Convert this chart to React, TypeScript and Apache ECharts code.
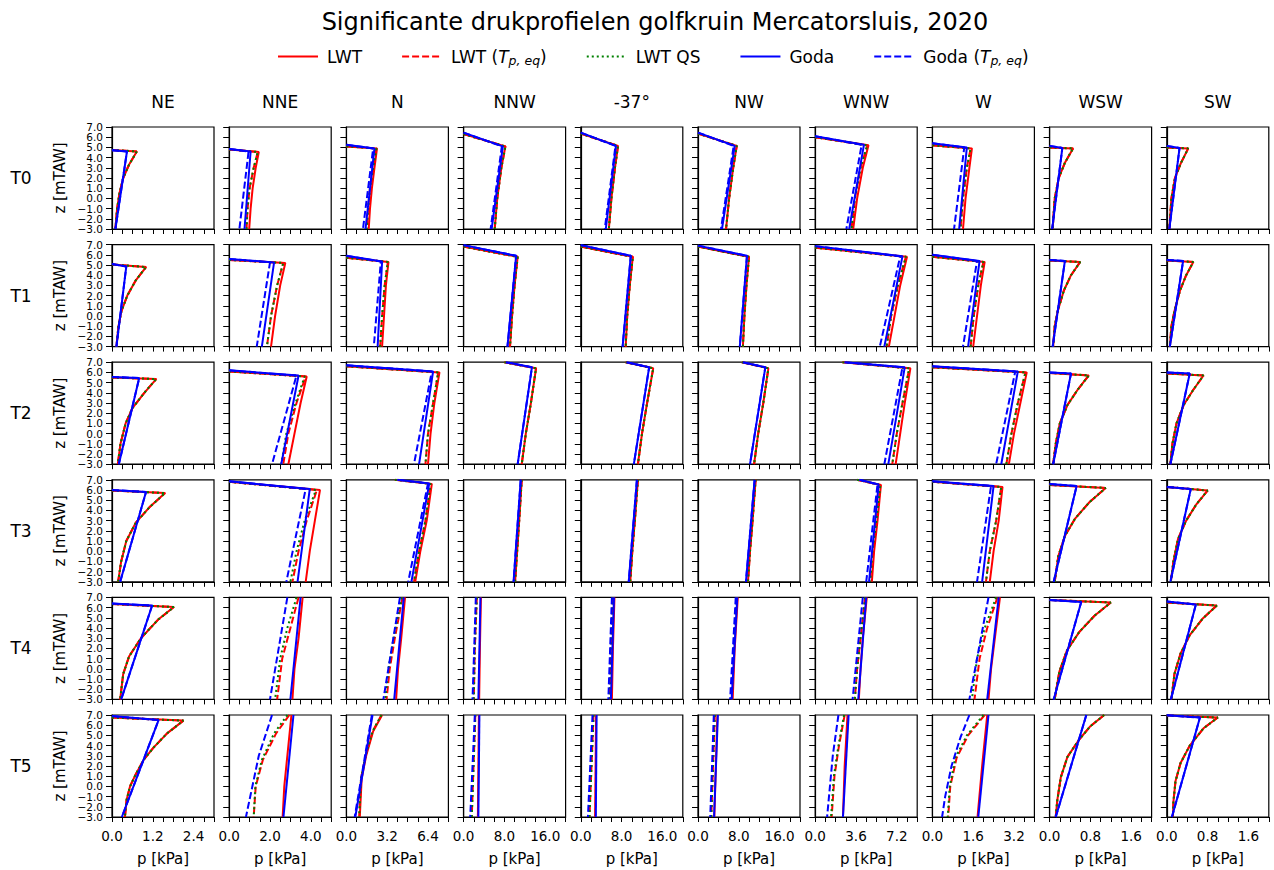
import React, { useEffect, useRef } from "react";
import * as echarts from "echarts";

type Pt = [number, number];
type Prof = Pt[] | null;

const COLUMNS = ["NE", "NNE", "N", "NNW", "-37°", "NW", "WNW", "W", "WSW", "SW"];
const ROWS = ["T0", "T1", "T2", "T3", "T4", "T5"];
const X_MAX = [3, 5, 8, 20, 20, 20, 9, 4, 2, 2];
const Z_MIN = -3;
const Z_MAX = 7;
const Z_TICKS = [7, 6, 5, 4, 3, 2, 1, 0, -1, -2, -3];
const SERIES_NAMES = ["LWT", "LWT (Tp,eq)", "LWT QS", "Goda", "Goda (Tp,eq)"];

// null = coincides with the solid counterpart
// ---------- T0 ----------
const T0_LWT: Prof[] = [
  [[0, 4.75], [0.73, 4.6], [0.5, 3.3], [0.33, 2.0], [0.22, 0.5], [0.15, -1], [0.1, -3]],
  [[0, 4.8], [1.45, 4.55], [1.3, 3], [1.15, 1], [1.05, -1], [0.98, -3]],
  [[0, 5.1], [2.4, 4.9], [2.2, 3], [2.0, 1], [1.85, -1], [1.75, -3]],
  [[0, 6.3], [8.2, 5.1], [7.4, 3], [6.6, 0], [6.1, -3]],
  [[0, 6.35], [7.3, 5.15], [6.7, 3], [6.0, 0], [5.5, -3]],
  [[0, 6.35], [7.6, 5.15], [6.9, 3], [6.1, 0], [5.5, -3]],
  [[0, 6.0], [4.7, 5.2], [4.2, 3], [3.7, 0], [3.35, -3]],
  [[0, 5.2], [1.55, 4.9], [1.45, 3], [1.3, 0], [1.2, -3]],
  [[0, 5.0], [0.46, 4.9], [0.3, 3.5], [0.18, 2], [0.1, 0], [0.06, -3]],
  [[0, 5.0], [0.42, 4.9], [0.28, 3.5], [0.16, 2], [0.09, 0], [0.05, -3]],
];
const T0_LWT_EQ: Prof[] = [
  null,
  [[0, 4.8], [1.4, 4.55], [1.2, 3], [1.0, 1], [0.9, -1], [0.85, -3]],
  [[0, 5.1], [2.35, 4.9], [2.1, 3], [1.85, 1], [1.7, -1], [1.6, -3]],
  null, null, null,
  [[0, 6.0], [4.6, 5.2], [4.0, 3], [3.5, 0], [3.2, -3]],
  [[0, 5.2], [1.5, 4.9], [1.35, 3], [1.2, 0], [1.1, -3]],
  null, null,
];
const T0_QS: Prof[] = [null, null, null, null, null, null, null, null, null, null];
const T0_GODA: Prof[] = [
  [[0, 4.72], [0.44, 4.6], [0.1, -3]],
  [[0, 4.85], [1.05, 4.6], [0.75, -3]],
  [[0, 5.25], [2.2, 4.9], [1.5, -3]],
  [[0, 6.45], [7.7, 5.1], [5.5, -3]],
  [[0, 6.45], [6.9, 5.15], [4.9, -3]],
  [[0, 6.45], [7.2, 5.15], [4.7, -3]],
  [[0, 6.1], [4.3, 5.25], [3.0, -3]],
  [[0, 5.4], [1.35, 5.0], [1.05, -3]],
  [[0, 5.15], [0.25, 4.95], [0.05, -3]],
  [[0, 5.15], [0.25, 4.95], [0.05, -3]],
];
const T0_GODA_EQ: Prof[] = [
  null,
  [[0, 4.85], [0.95, 4.6], [0.5, -3]],
  [[0, 5.25], [2.1, 4.9], [1.3, -3]],
  [[0, 6.45], [7.5, 5.1], [5.3, -3]],
  [[0, 6.45], [6.8, 5.15], [4.7, -3]],
  [[0, 6.45], [7.0, 5.15], [4.5, -3]],
  [[0, 6.1], [4.1, 5.25], [2.75, -3]],
  [[0, 5.4], [1.25, 5.0], [0.85, -3]],
  null, null,
];

// ---------- T1 ----------
const T1_LWT: Prof[] = [
  [[0, 5.05], [1.0, 4.8], [0.7, 3.5], [0.45, 2], [0.28, 0.5], [0.19, -1], [0.13, -3]],
  [[0, 5.5], [2.75, 5.2], [2.5, 3], [2.25, 0], [2.05, -3]],
  [[0, 5.7], [3.3, 5.3], [3.1, 3], [2.95, 0], [2.8, -3]],
  [[0, 6.8], [10.6, 5.8], [10.0, 3], [9.5, 0], [9.1, -3]],
  [[0, 6.8], [10.2, 5.8], [9.6, 3], [9.1, 0], [8.8, -3]],
  [[0, 6.8], [10.0, 5.8], [9.5, 3], [9.1, 0], [8.8, -3]],
  [[0, 6.7], [8.1, 5.8], [7.5, 3], [7.0, 0], [6.5, -3]],
  [[0, 5.8], [2.05, 5.3], [1.9, 3], [1.75, 0], [1.6, -3]],
  [[0, 5.45], [0.6, 5.3], [0.42, 4], [0.28, 2.5], [0.16, 0.5], [0.1, -1], [0.07, -3]],
  [[0, 5.45], [0.52, 5.3], [0.38, 4], [0.26, 2.5], [0.15, 0.5], [0.09, -1], [0.06, -3]],
];
const T1_LWT_EQ: Prof[] = [
  null,
  [[0, 5.5], [2.65, 5.2], [2.35, 3], [2.05, 0], [1.85, -3]],
  [[0, 5.7], [3.25, 5.3], [3.0, 3], [2.8, 0], [2.65, -3]],
  null, null, null,
  [[0, 6.7], [8.0, 5.8], [7.3, 3], [6.7, 0], [6.3, -3]],
  [[0, 5.8], [2.0, 5.3], [1.8, 3], [1.62, 0], [1.5, -3]],
  null, null,
];
const T1_QS: Prof[] = [null, null, null, null, null, null, null, null, null, null];
const T1_GODA: Prof[] = [
  [[0, 5.1], [0.42, 4.85], [0.13, -3]],
  [[0, 5.6], [2.2, 5.25], [1.6, -3]],
  [[0, 5.9], [2.8, 5.35], [2.45, -3]],
  [[0, 6.95], [10.3, 5.9], [8.6, -3]],
  [[0, 6.95], [9.8, 5.9], [8.2, -3]],
  [[0, 6.9], [9.6, 5.9], [8.2, -3]],
  [[0, 6.85], [7.7, 5.85], [6.1, -3]],
  [[0, 6.0], [1.85, 5.4], [1.4, -3]],
  [[0, 5.5], [0.3, 5.4], [0.06, -3]],
  [[0, 5.5], [0.32, 5.4], [0.06, -3]],
];
const T1_GODA_EQ: Prof[] = [
  null,
  [[0, 5.6], [2.0, 5.25], [1.35, -3]],
  [[0, 5.9], [2.7, 5.35], [2.15, -3]],
  null, null, null,
  [[0, 6.85], [7.5, 5.85], [5.7, -3]],
  [[0, 6.0], [1.75, 5.4], [1.2, -3]],
  null, null,
];

// ---------- T2 ----------
const T2_LWT: Prof[] = [
  [[0, 5.5], [1.3, 5.35], [0.95, 4], [0.6, 2.5], [0.4, 1], [0.25, -1], [0.17, -3]],
  [[0, 6.1], [3.8, 5.6], [3.5, 3], [3.2, 0], [2.9, -3]],
  [[0, 6.6], [7.3, 6.0], [6.9, 3], [6.6, 0], [6.4, -3]],
  [[8.0, 7.0], [14.2, 6.4], [13.2, 3], [12.2, 0], [11.4, -3]],
  [[8.8, 7.0], [14.2, 6.4], [13.0, 3], [12.0, 0], [11.2, -3]],
  [[8.6, 7.0], [13.8, 6.4], [12.8, 3], [11.8, 0], [11.0, -3]],
  [[2.4, 7.0], [8.4, 6.4], [7.9, 3], [7.5, 0], [7.1, -3]],
  [[0, 6.5], [3.7, 6.0], [3.45, 3], [3.2, 0], [3.0, -3]],
  [[0, 5.95], [0.77, 5.7], [0.55, 4.3], [0.35, 2.8], [0.2, 1], [0.12, -1], [0.07, -3]],
  [[0, 5.9], [0.72, 5.7], [0.52, 4.3], [0.33, 2.8], [0.19, 1], [0.11, -1], [0.07, -3]],
];
const T2_LWT_EQ: Prof[] = [
  null,
  [[0, 6.1], [3.75, 5.6], [3.3, 3], [2.9, 0], [2.65, -3]],
  [[0, 6.6], [7.2, 6.0], [6.8, 3], [6.4, 0], [6.2, -3]],
  null, null, null,
  [[2.4, 7.0], [8.3, 6.4], [7.7, 3], [7.2, 0], [6.8, -3]],
  [[0, 6.5], [3.65, 6.0], [3.35, 3], [3.1, 0], [2.9, -3]],
  null, null,
];
const T2_QS: Prof[] = [
  null,
  [[0, 6.1], [3.7, 5.6], [3.25, 3], [2.8, 0], [2.55, -3]],
  null, null, null, null, null, null, null, null,
];
const T2_GODA: Prof[] = [
  [[0, 5.55], [0.8, 5.45], [0.2, -3]],
  [[0, 6.2], [3.4, 5.7], [2.55, -3]],
  [[0, 6.7], [6.8, 6.1], [5.7, -3]],
  [[8.3, 7.0], [13.4, 6.5], [10.6, -3]],
  [[9.0, 7.0], [13.4, 6.5], [10.4, -3]],
  [[8.8, 7.0], [13.2, 6.5], [10.2, -3]],
  [[2.6, 7.0], [7.9, 6.5], [6.45, -3]],
  [[0, 6.6], [3.35, 6.1], [2.7, -3]],
  [[0, 6.0], [0.42, 5.9], [0.07, -3]],
  [[0, 6.0], [0.45, 5.9], [0.07, -3]],
];
const T2_GODA_EQ: Prof[] = [
  null,
  [[0, 6.2], [3.3, 5.7], [2.1, -3]],
  [[0, 6.7], [6.7, 6.1], [5.3, -3]],
  null, null, null,
  [[2.6, 7.0], [7.7, 6.5], [6.1, -3]],
  [[0, 6.6], [3.25, 6.1], [2.5, -3]],
  null, null,
];

// ---------- T3 ----------
const T3_LWT: Prof[] = [
  [[0, 5.95], [1.56, 5.7], [1.1, 4.3], [0.7, 2.8], [0.42, 1], [0.27, -1], [0.18, -3]],
  [[0, 6.8], [4.45, 6.0], [4.2, 3], [3.95, 0], [3.75, -3]],
  [[3.8, 7.0], [6.7, 6.6], [6.3, 3], [5.8, 0], [5.4, -3]],
  [[11.4, 7.0], [10.9, 3], [10.5, 0], [10.1, -3]],
  [[11.2, 7.0], [10.6, 3], [10.1, 0], [9.7, -3]],
  [[11.3, 7.0], [10.7, 3], [10.2, 0], [9.8, -3]],
  [[3.7, 7.0], [5.8, 6.5], [5.5, 3], [5.2, 0], [5.0, -3]],
  [[0, 6.8], [2.75, 6.3], [2.6, 3], [2.4, 0], [2.25, -3]],
  [[0, 6.5], [1.1, 6.2], [0.78, 4.8], [0.5, 3.2], [0.3, 1.5], [0.17, -0.5], [0.1, -3]],
  [[0, 6.3], [0.8, 5.95], [0.58, 4.6], [0.38, 3], [0.22, 1.2], [0.13, -1], [0.08, -3]],
];
const T3_LWT_EQ: Prof[] = [
  null,
  [[0, 6.8], [4.3, 6.0], [3.8, 3], [3.4, 0], [3.1, -3]],
  [[3.8, 7.0], [6.6, 6.6], [6.2, 3], [5.7, 0], [5.3, -3]],
  null, null, null,
  [[3.7, 7.0], [5.75, 6.5], [5.4, 3], [5.05, 0], [4.85, -3]],
  [[0, 6.8], [2.7, 6.3], [2.5, 3], [2.25, 0], [2.1, -3]],
  null, null,
];
const T3_QS: Prof[] = [
  null,
  [[0, 6.8], [4.25, 6.0], [3.7, 3], [3.3, 0], [3.0, -3]],
  null, null, null, null, null, null, null, null,
];
const T3_GODA: Prof[] = [
  [[0, 6.0], [1.0, 5.8], [0.24, -3]],
  [[0, 6.85], [3.95, 6.1], [3.35, -3]],
  [[4.0, 7.0], [6.5, 6.65], [5.1, -3]],
  [[11.2, 7.0], [9.8, -3]],
  [[11.0, 7.0], [9.4, -3]],
  [[11.1, 7.0], [9.4, -3]],
  [[3.9, 7.0], [5.6, 6.55], [4.75, -3]],
  [[0, 6.85], [2.4, 6.4], [1.95, -3]],
  [[0, 6.6], [0.53, 6.4], [0.08, -3]],
  [[0, 6.3], [0.47, 6.1], [0.07, -3]],
];
const T3_GODA_EQ: Prof[] = [
  null,
  [[0, 6.85], [3.75, 6.1], [2.8, -3]],
  [[4.0, 7.0], [6.4, 6.65], [4.85, -3]],
  null, null, null,
  [[3.9, 7.0], [5.5, 6.55], [4.5, -3]],
  [[0, 6.85], [2.3, 6.4], [1.75, -3]],
  null, null,
];

// ---------- T4 ----------
const T4_LWT: Prof[] = [
  [[0, 6.35], [1.82, 6.05], [1.35, 4.8], [0.85, 3], [0.5, 1.2], [0.33, -0.5], [0.24, -3]],
  [[3.6, 7.0], [3.4, 3], [3.2, 0], [3.1, -3]],
  [[4.6, 7.0], [4.3, 3], [4.05, 0], [3.9, -3]],
  [[3.4, 7.0], [3.2, 2], [3.05, -3]],
  [[6.6, 7.0], [6.3, 2], [6.1, -3]],
  [[7.8, 7.0], [7.2, 2], [6.8, -3]],
  [[4.55, 7.0], [4.2, 3], [4.0, 0], [3.85, -3]],
  [[2.65, 7.0], [2.45, 3], [2.3, 0], [2.2, -3]],
  [[0, 6.75], [1.2, 6.5], [0.88, 5.2], [0.58, 3.6], [0.34, 1.8], [0.19, -0.3], [0.1, -3]],
  [[0, 6.5], [0.98, 6.2], [0.7, 4.9], [0.45, 3.3], [0.27, 1.5], [0.15, -0.5], [0.09, -3]],
];
const T4_LWT_EQ: Prof[] = [
  null,
  [[3.4, 7.0], [3.0, 4], [2.6, 1], [2.35, -3]],
  [[4.4, 7.0], [3.8, 3], [3.4, 0], [3.15, -3]],
  [[2.6, 7.0], [2.2, 2], [2.0, -3]],
  [[6.3, 7.0], [5.9, 2], [5.7, -3]],
  [[7.6, 7.0], [7.0, 2], [6.6, -3]],
  [[4.4, 7.0], [4.0, 3], [3.7, 0], [3.5, -3]],
  [[2.55, 7.0], [2.15, 4], [1.85, 1], [1.65, -3]],
  null, null,
];
const T4_QS: Prof[] = [
  null,
  [[3.3, 7.0], [2.85, 4], [2.5, 1], [2.25, -3]],
  [[4.35, 7.0], [3.7, 3], [3.3, 0], [3.05, -3]],
  null, null, null, null,
  [[2.5, 7.0], [2.05, 4], [1.75, 1], [1.55, -3]],
  null, null,
];
const T4_GODA: Prof[] = [
  [[0, 6.4], [1.18, 6.2], [0.27, -3]],
  [[3.5, 7.0], [3.0, -3]],
  [[4.5, 7.0], [3.75, -3]],
  [[3.3, 7.0], [2.9, -3]],
  [[6.5, 7.0], [5.9, -3]],
  [[7.7, 7.0], [6.6, -3]],
  [[4.5, 7.0], [3.8, -3]],
  [[2.6, 7.0], [2.15, -3]],
  [[0, 6.75], [0.62, 6.55], [0.08, -3]],
  [[0, 6.6], [0.57, 6.3], [0.08, -3]],
];
const T4_GODA_EQ: Prof[] = [
  null,
  [[2.85, 7.0], [2.0, -3]],
  [[4.2, 7.0], [2.9, -3]],
  [[2.4, 7.0], [1.75, -3]],
  [[6.1, 7.0], [5.4, -3]],
  [[7.4, 7.0], [6.3, -3]],
  [[4.2, 7.0], [3.3, -3]],
  [[2.2, 7.0], [1.45, -3]],
  null, null,
];

// ---------- T5 ----------
const T5_LWT: Prof[] = [
  [[0, 6.75], [2.1, 6.45], [1.62, 5.2], [1.22, 3.8], [0.93, 2.6], [0.7, 1.2], [0.53, 0], [0.43, -1.3], [0.38, -3]],
  [[3.05, 7.0], [2.85, 3], [2.7, 0], [2.62, -3]],
  [[2.8, 7.0], [2.1, 5.4], [1.55, 3.0], [1.2, 0.8], [1.05, -3]],
  [[3.0, 7.0], [2.8, -3]],
  [[3.0, 7.0], [2.8, -3]],
  [[3.8, 7.0], [3.2, -3]],
  [[2.85, 7.0], [2.6, 2], [2.45, -3]],
  [[2.15, 7.0], [1.95, 2], [1.77, -3]],
  [[1.07, 7.0], [0.8, 5.9], [0.58, 4.6], [0.35, 2.9], [0.22, 0.9], [0.15, -1.4], [0.12, -3]],
  [[0, 6.95], [1.0, 6.75], [0.72, 5.7], [0.45, 4.0], [0.27, 2.3], [0.17, 0.5], [0.13, -1.5], [0.12, -3]],
];
const T5_LWT_EQ: Prof[] = [
  null,
  [[2.95, 7.0], [2.3, 5.2], [1.65, 2.6], [1.3, 0], [1.2, -3]],
  [[2.75, 7.0], [2.05, 5.4], [1.5, 3.0], [1.15, 0.8], [1.0, -3]],
  [[2.3, 7.0], [1.6, -3]],
  [[2.5, 7.0], [1.7, -3]],
  [[3.3, 7.0], [2.6, -3]],
  [[2.6, 7.0], [2.1, 4], [1.7, 1], [1.45, -3]],
  [[2.05, 7.0], [1.4, 5.0], [0.95, 2.8], [0.7, 0], [0.62, -3]],
  null, null,
];
const T5_QS: Prof[] = [
  null,
  [[2.85, 7.0], [2.2, 5.2], [1.6, 2.6], [1.28, 0], [1.2, -3]],
  null, null, null, null,
  [[2.55, 7.0], [2.05, 4], [1.65, 1], [1.4, -3]],
  [[2.0, 7.0], [1.35, 5.0], [0.9, 2.8], [0.68, 0], [0.6, -3]],
  null, null,
];
const T5_GODA: Prof[] = [
  [[0, 6.9], [1.37, 6.5], [0.29, -3]],
  [[3.15, 7.0], [2.66, -3]],
  [[2.05, 7.0], [0.7, -3]],
  [[3.1, 7.0], [2.9, -3]],
  [[3.1, 7.0], [2.95, -3]],
  [[3.9, 7.0], [3.15, -3]],
  [[2.95, 7.0], [2.45, -3]],
  [[2.2, 7.0], [1.8, -3]],
  [[0.72, 7.0], [0.12, -3]],
  [[0, 6.97], [0.65, 6.75], [0.1, -3]],
];
const T5_GODA_EQ: Prof[] = [
  null,
  [[2.1, 7.0], [1.45, 3.0], [0.82, -3]],
  [[2.0, 7.0], [0.65, -3]],
  [[2.2, 7.0], [1.3, -3]],
  [[2.3, 7.0], [1.4, -3]],
  [[3.1, 7.0], [2.4, -3]],
  [[2.05, 7.0], [1.55, 3], [1.05, -3]],
  [[1.45, 7.0], [1.1, 4.8], [0.75, 2.0], [0.5, -1.0], [0.38, -3]],
  null, null,
];

const LWT_ROWS = [T0_LWT, T1_LWT, T2_LWT, T3_LWT, T4_LWT, T5_LWT];
const LWT_EQ_ROWS = [T0_LWT_EQ, T1_LWT_EQ, T2_LWT_EQ, T3_LWT_EQ, T4_LWT_EQ, T5_LWT_EQ];
const QS_ROWS = [T0_QS, T1_QS, T2_QS, T3_QS, T4_QS, T5_QS];
const GODA_ROWS = [T0_GODA, T1_GODA, T2_GODA, T3_GODA, T4_GODA, T5_GODA];
const GODA_EQ_ROWS = [T0_GODA_EQ, T1_GODA_EQ, T2_GODA_EQ, T3_GODA_EQ, T4_GODA_EQ, T5_GODA_EQ];

const FONT = '"DejaVu Sans", sans-serif';
const STYLES = [
  { color: "#ff0000", type: "solid" as any },
  { color: "#ff0000", type: [7, 3] as any },
  { color: "#008000", type: [2, 3] as any },
  { color: "#0000ff", type: "solid" as any },
  { color: "#0000ff", type: [7, 3] as any },
];

const COL_LEFT0 = 112;
const COL_STEP = 117.2;
const ROW_TOP0 = 127;
const ROW_STEP = 117.6;
const PANEL = 102;

function fmtNum(v: number): string {
  const s = v.toFixed(1);
  return s.startsWith("-") ? "\u2212" + s.slice(1) : s;
}

function buildOption() {
  const grid: any[] = [];
  const xAxis: any[] = [];
  const yAxis: any[] = [];
  const series: any[] = [];
  const graphic: any[] = [];

  graphic.push({
    type: "text",
    x: 655,
    y: 22,
    style: {
      text: "Significante drukprofielen golfkruin Mercatorsluis, 2020",
      fontSize: 24,
      fontFamily: FONT,
      fill: "#000",
      align: "center",
      verticalAlign: "middle",
    },
  });

  COLUMNS.forEach((name, c) => {
    graphic.push({
      type: "text",
      x: COL_LEFT0 + c * COL_STEP + PANEL / 2,
      y: 102,
      style: { text: name, fontSize: 17, fontFamily: FONT, fill: "#000", align: "center", verticalAlign: "middle" },
    });
  });
  ROWS.forEach((name, r) => {
    graphic.push({
      type: "text",
      x: 21,
      y: ROW_TOP0 + r * ROW_STEP + PANEL / 2,
      style: { text: name, fontSize: 17, fontFamily: FONT, fill: "#000", align: "center", verticalAlign: "middle" },
    });
  });

  ROWS.forEach((_, r) => {
    COLUMNS.forEach((__, c) => {
      const idx = r * COLUMNS.length + c;
      const xmax = X_MAX[c];
      const major = xmax * 0.4;
      const top = ROW_TOP0 + r * ROW_STEP;
      grid.push({
        left: COL_LEFT0 + c * COL_STEP,
        top,
        width: PANEL,
        height: PANEL,
        show: true,
        borderColor: "#000",
        borderWidth: 1.2,
        backgroundColor: "#fff",
      });
      xAxis.push({
        gridIndex: idx,
        type: "value",
        min: 0,
        max: xmax,
        interval: xmax / 10,
        axisLine: { show: true, onZero: false, lineStyle: { color: "#000", width: 1.2 } },
        axisTick: { show: true, length: 5, lineStyle: { color: "#000", width: 1 } },
        splitLine: { show: false },
        axisLabel: {
          show: r === ROWS.length - 1,
          margin: 12,
          fontSize: 13.5,
          fontFamily: FONT,
          color: "#000",
          showMinLabel: true,
          showMaxLabel: true,
          formatter: (v: number) => {
            const q = v / major;
            return Math.abs(q - Math.round(q)) < 1e-6 ? fmtNum(v) : "";
          },
        },
        name: r === ROWS.length - 1 ? "p [kPa]" : "",
        nameLocation: "middle",
        nameGap: 34,
        nameTextStyle: { fontSize: 15, fontFamily: FONT, color: "#000" },
      });
      yAxis.push({
        gridIndex: idx,
        type: "value",
        min: Z_MIN,
        max: Z_MAX,
        interval: 1,
        axisLine: { show: true, onZero: false, lineStyle: { color: "#000", width: 1.2 } },
        axisTick: { show: true, length: 6, lineStyle: { color: "#000", width: 1 } },
        splitLine: { show: false },
        axisLabel: { show: false },
        name: c === 0 ? "z [mTAW]" : "",
        nameLocation: "middle",
        nameGap: 45,
        nameRotate: 90,
        nameTextStyle: { fontSize: 15, fontFamily: FONT, color: "#000" },
      });

      if (c === 0) {
        Z_TICKS.forEach((z) => {
          graphic.push({
            type: "text",
            x: COL_LEFT0 - 9,
            y: top + ((Z_MAX - z) / (Z_MAX - Z_MIN)) * PANEL,
            style: {
              text: fmtNum(z),
              fontSize: 10.5,
              fontFamily: FONT,
              fill: "#000",
              align: "right",
              verticalAlign: "middle",
            },
          });
        });
      }

      const lwt = LWT_ROWS[r][c];
      const eq = LWT_EQ_ROWS[r][c] ?? lwt;
      const qs = QS_ROWS[r][c] ?? eq;
      const goda = GODA_ROWS[r][c];
      const geq = GODA_EQ_ROWS[r][c] ?? goda;
      const profs = [lwt, eq, qs, goda, geq];
      profs.forEach((p, k) => {
        series.push({
          type: "line",
          name: SERIES_NAMES[k],
          xAxisIndex: idx,
          yAxisIndex: idx,
          data: p || [],
          symbol: "none",
          showSymbol: false,
          silent: true,
          clip: true,
          z: 2 + k,
          color: STYLES[k].color,
          lineStyle: { color: STYLES[k].color, width: 2, type: STYLES[k].type },
          itemStyle: { color: STYLES[k].color },
        });
      });
    });
  });

  return {
    animation: false,
    backgroundColor: "#fff",
    textStyle: { fontFamily: FONT },
    legend: {
      data: SERIES_NAMES,
      left: 272,
      top: 43,
      itemWidth: 40,
      itemHeight: 14,
      itemGap: 39,
      selectedMode: false,
      itemStyle: { opacity: 0, borderWidth: 0 },
      textStyle: {
        fontSize: 17,
        fontFamily: FONT,
        color: "#000",
        padding: [0, 0, 0, 4],
        rich: {
          i: { fontSize: 17, fontStyle: "italic", fontFamily: FONT, color: "#000" },
          s: { fontSize: 12.5, fontStyle: "italic", fontFamily: FONT, color: "#000", padding: [8, 0, 0, 0] },
        },
      },
      formatter: (name: string) => {
        if (name === "LWT (Tp,eq)") return "LWT ({i|T}{s|p, eq})";
        if (name === "Goda (Tp,eq)") return "Goda ({i|T}{s|p, eq})";
        return name;
      },
    },
    grid,
    xAxis,
    yAxis,
    series,
    graphic,
  };
}

export default function App() {
  const ref = useRef<HTMLDivElement>(null);
  useEffect(() => {
    if (!ref.current) return;
    const chart = echarts.init(ref.current, undefined, { renderer: "svg" });
    chart.setOption(buildOption() as any);
    return () => chart.dispose();
  }, []);
  return (
    <div
      ref={ref}
      style={{ position: "fixed", left: 0, top: 0, width: 1274, height: 870, background: "#fff" }}
    />
  );
}
